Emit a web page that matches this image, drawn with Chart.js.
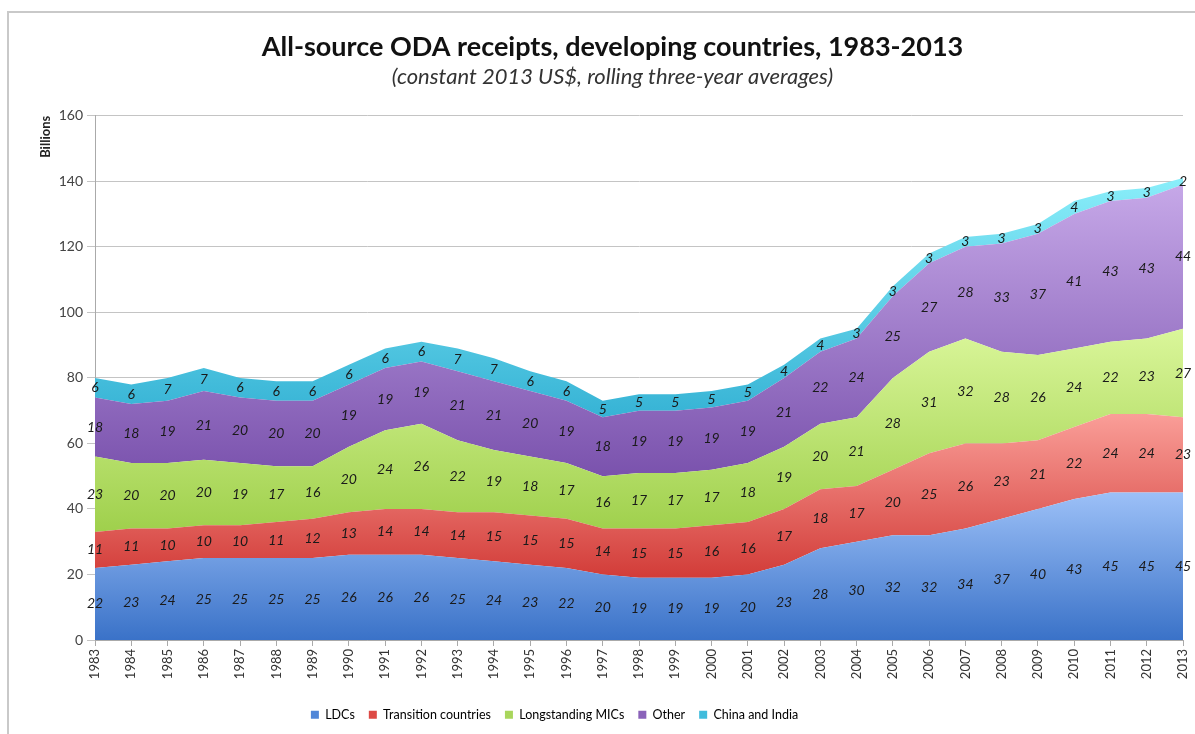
<!DOCTYPE html>
<html>
<head>
<meta charset="utf-8">
<script src="https://cdn.jsdelivr.net/npm/chart.js@4/dist/chart.umd.min.js"></script>
<style>
  html, body { margin: 0; padding: 0; background: #fff; }
  .frame { position: absolute; left: 7px; top: 11px; width: 1200px; height: 740px; border: 2px solid #c9c9c9; }
  canvas { position: absolute; left: 0; top: 0; }
</style>
</head>
<body>
<div class="frame"></div>
<canvas id="oda" width="1195" height="734"></canvas>
<script>
/* ODA receipts stacked area — labelled bands */

const YEARS = ['1983', '1984', '1985', '1986', '1987', '1988', '1989', '1990', '1991', '1992',
               '1993', '1994', '1995', '1996', '1997', '1998', '1999', '2000', '2001', '2002',
               '2003', '2004', '2005', '2006', '2007', '2008', '2009', '2010', '2011', '2012', '2013'];

const LDCS        = [22, 23, 24, 25, 25, 25, 25, 26, 26, 26, 25, 24, 23, 22, 20, 19, 19, 19, 20, 23, 28, 30, 32, 32, 34, 37, 40, 43, 45, 45, 45];
const TRANSITION  = [11, 11, 10, 10, 10, 11, 12, 13, 14, 14, 14, 15, 15, 15, 14, 15, 15, 16, 16, 17, 18, 17, 20, 25, 26, 23, 21, 22, 24, 24, 23];
const MICS        = [23, 20, 20, 20, 19, 17, 16, 20, 24, 26, 22, 19, 18, 17, 16, 17, 17, 17, 18, 19, 20, 21, 28, 31, 32, 28, 26, 24, 22, 23, 27];
const OTHER       = [18, 18, 19, 21, 20, 20, 20, 19, 19, 19, 21, 21, 20, 19, 18, 19, 19, 19, 19, 21, 22, 24, 25, 27, 28, 33, 37, 41, 43, 43, 44];
const CHINA_INDIA = [6, 6, 7, 7, 6, 6, 6, 6, 6, 6, 7, 7, 6, 6, 5, 5, 5, 5, 5, 4, 4, 3, 3, 3, 3, 3, 3, 4, 3, 3, 2];

const NAMES  = ['LDCs', 'Transition countries', 'Longstanding MICs', 'Other', 'China and India'];
const SERIES = [LDCS, TRANSITION, MICS, OTHER, CHINA_INDIA];

const SOLID = ['#4f86d8', '#dd4a45', '#a9d65c', '#8a62b9', '#40bcdc'];
const LIGHT = ['#9cc0f7', '#fa9e98', '#daf69a', '#c6a8e8', '#8aeefa'];
const DARK  = ['#3a72c8', '#d23c38', '#9fd04c', '#7a52ad', '#36b3d5'];

const FONT = 'Lato, "Open Sans", sans-serif';

// vertical gradient spanning each band's own extent
function bandFill(idx) {
  return c => {
    const chart = c.chart;
    if (!chart.chartArea) return SOLID[idx];
    let top = 0, bot = Infinity;
    YEARS.forEach((_, j) => {
      let below = 0;
      for (let k = 0; k < idx; k++) below += SERIES[k][j];
      top = Math.max(top, below + SERIES[idx][j]);
      bot = Math.min(bot, below);
    });
    const y = chart.scales.y;
    const g = chart.ctx.createLinearGradient(0, y.getPixelForValue(top), 0, y.getPixelForValue(bot));
    g.addColorStop(0, LIGHT[idx]);
    g.addColorStop(1, DARK[idx]);
    return g;
  };
}

const bandLabels = {
  id: 'bandLabels',
  afterDatasetsDraw(chart) {
    const ctx = chart.ctx;
    ctx.save();
    ctx.font = 'italic 14px ' + FONT;
    ctx.fillStyle = '#1a1a1a';
    ctx.textAlign = 'center';
    ctx.textBaseline = 'middle';
    chart.data.datasets.forEach((ds, i) => {
      const meta = chart.getDatasetMeta(i);
      meta.data.forEach((pt, j) => {
        const yBot = i === 0 ? chart.scales.y.getPixelForValue(0) : chart.getDatasetMeta(i - 1).data[j].y;
        ctx.fillText(String(ds.data[j]), pt.x, (pt.y + yBot) / 2);
      });
    });
    ctx.restore();
  },
};

// the original legend sits left of centre
const legendShift = {
  id: 'legendShift',
  afterLayout(chart) {
    if (!chart.legend) return;
    chart.legend.left -= 58;
    chart.legend.right -= 58;
  },
};

new Chart(document.getElementById('oda'), {
  type: 'line',
  data: {
    labels: YEARS,
    datasets: SERIES.map((s, i) => ({
      label: NAMES[i],
      data: s,
      fill: i === 0 ? 'origin' : '-1',
      backgroundColor: bandFill(i),
      borderWidth: 0,
      pointRadius: 0,
      tension: 0,
    })),
  },
  options: {
    responsive: false,
    animation: false,
    layout: { padding: { left: 36, right: 6, top: 0, bottom: 3 } },
    plugins: {
      title: {
        display: true,
        text: 'All-source ODA receipts, developing countries, 1983-2013',
        color: '#111',
        font: { family: FONT, size: 27, weight: 'bold' },
        padding: { top: 31, bottom: 0 },
      },
      subtitle: {
        display: true,
        text: '(constant 2013 US$, rolling three-year averages)',
        color: '#333',
        font: { family: FONT, size: 22, style: 'italic' },
        padding: { bottom: 26 },
      },
      legend: {
        position: 'bottom',
        labels: {
          boxWidth: 8,
          boxHeight: 8,
          padding: 14,
          color: '#333',
          font: { family: FONT, size: 12.5 },
          generateLabels: chart => chart.data.datasets.map((ds, i) => ({
            text: ds.label,
            fillStyle: SOLID[i],
            strokeStyle: SOLID[i],
            lineWidth: 0,
            hidden: false,
            datasetIndex: i,
          })),
        },
      },
      tooltip: { enabled: false },
    },
    scales: {
      x: {
        stacked: true,
        offset: false,
        grid: { drawOnChartArea: false, tickLength: 6, color: '#aaaaaa' },
        border: { color: '#aaaaaa' },
        ticks: { autoSkip: false, minRotation: 90, maxRotation: 90, color: '#333', font: { family: FONT, size: 13 } },
        afterFit: s => { s.height = 54.5; s.paddingRight = 12; s.paddingLeft = 0; },
      },
      y: {
        stacked: true,
        min: 0,
        max: 160,
        ticks: { stepSize: 20, color: '#444', padding: 4, font: { family: FONT, size: 14 } },
        grid: { color: '#c4c4c4', tickLength: 8 },
        border: { color: '#aaaaaa' },
        title: { display: true, text: 'Billions', align: 'end', color: '#222', font: { family: FONT, size: 13, weight: 'bold' }, padding: 2 },
        afterFit: s => { s.width = 59; },
      },
    },
  },
  plugins: [bandLabels, legendShift],
});
</script>
</body>
</html>
